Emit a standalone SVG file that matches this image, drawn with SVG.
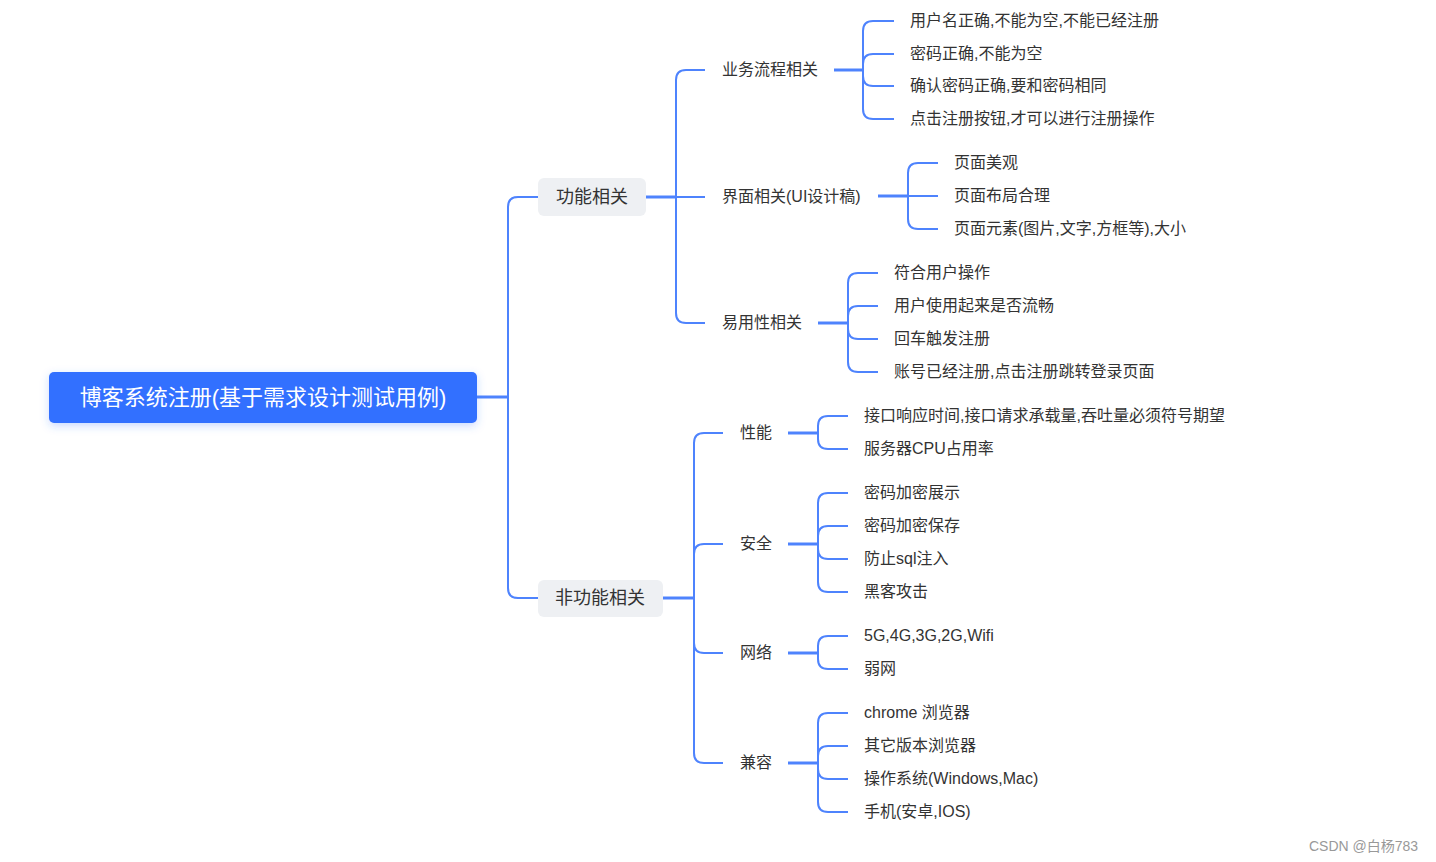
<svg xmlns="http://www.w3.org/2000/svg" width="1436" height="862" viewBox="0 0 1436 862">
<style>
text{font-family:"Liberation Sans","Noto Sans CJK SC",sans-serif;fill:#333;}
.c{font-size:16px;}
.m{font-size:16px;}
.s{font-size:18px;}
.root{font-size:22px;fill:#fff;text-anchor:middle;}
.b{fill:#EEF0F3;}
.l{fill:none;stroke:#4E83FD;stroke-width:2;}
.t{fill:none;stroke:#4E83FD;stroke-width:3;}
.wm{font-size:14px;fill:#999;}
</style>
<defs>
<filter id="sh" x="-10%" y="-40%" width="120%" height="180%">
<feDropShadow dx="0" dy="3" stdDeviation="4" flood-color="#3370FF" flood-opacity="0.25"/>
</filter>
</defs>
<g id="connectors">
<path class="t" d="M477 397H508"/>
<path class="l" d="M508 397V207Q508 197 518 197H538M508 397V588Q508 598 518 598H538"/>
<path class="t" d="M646 197H676"/>
<path class="l" d="M676 197V80Q676 70 686 70H705M676 197H705M676 197V313Q676 323 686 323H705"/>
<path class="t" d="M834 70H863"/>
<path class="l" d="M863 70V31Q863 21 873 21H894M863 70V64Q863 54 873 54H894M863 70V76Q863 86 873 86H894M863 70V109Q863 119 873 119H894"/>
<path class="t" d="M878 196H908"/>
<path class="l" d="M908 196V173Q908 163 918 163H938M908 196H938M908 196V219Q908 229 918 229H938"/>
<path class="t" d="M818 323H848"/>
<path class="l" d="M848 323V283Q848 273 858 273H878M848 323V316Q848 306 858 306H878M848 323V329Q848 339 858 339H878M848 323V362Q848 372 858 372H878"/>
<path class="t" d="M663 598H694"/>
<path class="l" d="M694 598V443Q694 433 704 433H723M694 598V554Q694 544 704 544H723M694 598V643Q694 653 704 653H723M694 598V753Q694 763 704 763H723"/>
<path class="t" d="M788 433H818"/>
<path class="l" d="M818 433V426Q818 416 828 416H848M818 433V439Q818 449 828 449H848"/>
<path class="t" d="M788 544H818"/>
<path class="l" d="M818 544V503Q818 493 828 493H848M818 544V536Q818 526 828 526H848M818 544V549Q818 559 828 559H848M818 544V582Q818 592 828 592H848"/>
<path class="t" d="M788 653H818"/>
<path class="l" d="M818 653V646Q818 636 828 636H848M818 653V659Q818 669 828 669H848"/>
<path class="t" d="M788 763H818"/>
<path class="l" d="M818 763V723Q818 713 828 713H848M818 763V756Q818 746 828 746H848M818 763V769Q818 779 828 779H848M818 763V802Q818 812 828 812H848"/>
</g>
<g id="root">
<rect x="49" y="372" width="428" height="51" rx="5" fill="#3370FF" filter="url(#sh)"/>
<text class="root" x="263" y="405">博客系统注册(基于需求设计测试用例)</text>
</g>
<g id="n-func">
<rect class="b" x="538" y="178" width="108" height="38" rx="6"/>
<text class="s" x="592" y="203" text-anchor="middle">功能相关</text>
</g>
<g id="n-nonfunc">
<rect class="b" x="538" y="580" width="125" height="37" rx="6"/>
<text class="s" x="600" y="604" text-anchor="middle">非功能相关</text>
</g>
<g id="n-biz"><text class="m" x="722" y="75">业务流程相关</text></g>
<g id="n-ui"><text class="m" x="722" y="202">界面相关(UI设计稿)</text></g>
<g id="n-use"><text class="m" x="722" y="328">易用性相关</text></g>
<g id="n-perf"><text class="m" x="740" y="438">性能</text></g>
<g id="n-sec"><text class="m" x="740" y="549">安全</text></g>
<g id="n-net"><text class="m" x="740" y="658">网络</text></g>
<g id="n-comp"><text class="m" x="740" y="768">兼容</text></g>
<g id="n-biz-1"><text class="c" x="910" y="26">用户名正确,不能为空,不能已经注册</text></g>
<g id="n-biz-2"><text class="c" x="910" y="59">密码正确,不能为空</text></g>
<g id="n-biz-3"><text class="c" x="910" y="91">确认密码正确,要和密码相同</text></g>
<g id="n-biz-4"><text class="c" x="910" y="124">点击注册按钮,才可以进行注册操作</text></g>
<g id="n-ui-1"><text class="c" x="954" y="168">页面美观</text></g>
<g id="n-ui-2"><text class="c" x="954" y="201">页面布局合理</text></g>
<g id="n-ui-3"><text class="c" x="954" y="234">页面元素(图片,文字,方框等),大小</text></g>
<g id="n-use-1"><text class="c" x="894" y="278">符合用户操作</text></g>
<g id="n-use-2"><text class="c" x="894" y="311">用户使用起来是否流畅</text></g>
<g id="n-use-3"><text class="c" x="894" y="344">回车触发注册</text></g>
<g id="n-use-4"><text class="c" x="894" y="377">账号已经注册,点击注册跳转登录页面</text></g>
<g id="n-perf-1"><text class="c" x="864" y="421">接口响应时间,接口请求承载量,吞吐量必须符号期望</text></g>
<g id="n-perf-2"><text class="c" x="864" y="454">服务器CPU占用率</text></g>
<g id="n-sec-1"><text class="c" x="864" y="498">密码加密展示</text></g>
<g id="n-sec-2"><text class="c" x="864" y="531">密码加密保存</text></g>
<g id="n-sec-3"><text class="c" x="864" y="564">防止sql注入</text></g>
<g id="n-sec-4"><text class="c" x="864" y="597">黑客攻击</text></g>
<g id="n-net-1"><text class="c" x="864" y="641">5G,4G,3G,2G,Wifi</text></g>
<g id="n-net-2"><text class="c" x="864" y="674">弱网</text></g>
<g id="n-comp-1"><text class="c" x="864" y="718">chrome 浏览器</text></g>
<g id="n-comp-2"><text class="c" x="864" y="751">其它版本浏览器</text></g>
<g id="n-comp-3"><text class="c" x="864" y="784">操作系统(Windows,Mac)</text></g>
<g id="n-comp-4"><text class="c" x="864" y="817">手机(安卓,IOS)</text></g>
<text class="wm" x="1309" y="851">CSDN @白杨783</text>
</svg>
